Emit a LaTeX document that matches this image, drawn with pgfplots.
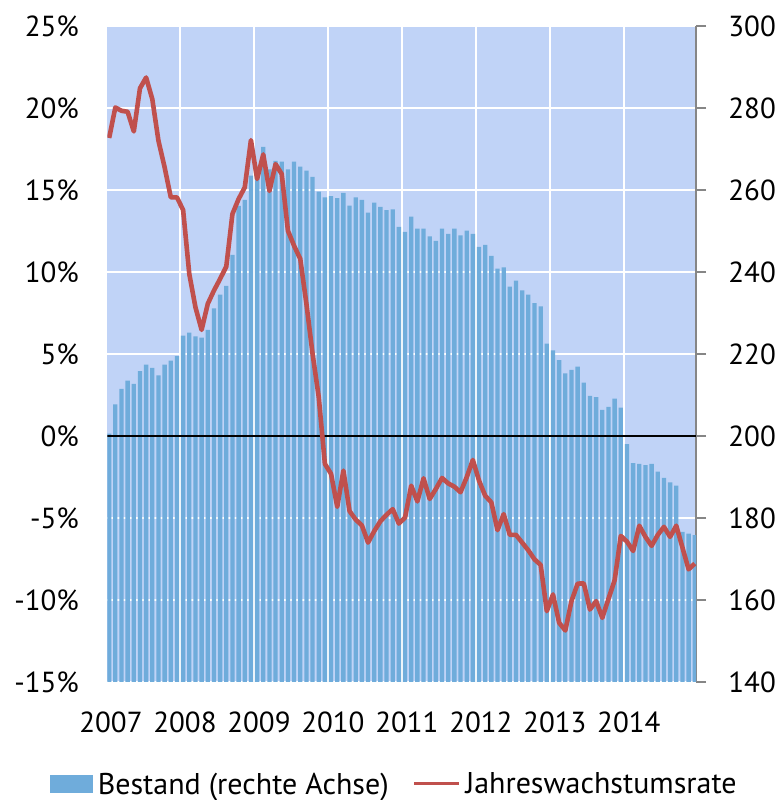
\documentclass[border=0pt]{standalone}
\usepackage{fontspec}
\setmainfont{PT Sans}
\usepackage{pgfplots}
\pgfplotsset{compat=1.18}
\definecolor{bgblue}{HTML}{C0D3F7}
\definecolor{barblue}{HTML}{6FACDB}
\definecolor{linered}{HTML}{C0504D}
\definecolor{axgrey}{HTML}{868686}
\begin{document}
\begin{tikzpicture}
\pgfplotsset{
  common/.style={width=294.35pt, height=328pt, scale only axis,
    xmin=-0.3, xmax=95.2,
    tick label style={font=\fontsize{14.5}{17}\selectfont}},
}
% ---------- right axis: Bestand (bars) ----------
\begin{axis}[common, name=main,
  axis background/.style={fill=bgblue},
  ymin=140, ymax=300,
  ytick={140,160,180,200,220,240,260,280,300},
  yticklabels={140,160,180,200,220,240,260,280,300},
  axis y line*=right, axis x line*=bottom,
  x axis line style={draw=none},
  y axis line style={draw=axgrey, line width=0.6pt},
  xtick={11.5,23.5,35.5,47.5,59.5,71.5,83.5}, xticklabels={},
  xtick style={draw=none},
  ytick style={draw=axgrey, line width=0.6pt},
  tick align=outside, major tick length=5pt,
  xmajorgrids, ymajorgrids,
  grid style={white, line width=0.85pt},
  yticklabel style={anchor=west, inner sep=0pt, xshift=11pt},
]
\addplot[ybar, bar width=0.7, fill=barblue, draw=none] table[x=i, y=v] {
i v
0 200.6
1 207.7
2 211.5
3 213.5
4 212.7
5 215.8
6 217.4
7 216.6
8 214.8
9 217.4
10 218.4
11 219.5
12 224.5
13 225.2
14 224.3
15 224.0
16 225.9
17 231.1
18 234.5
19 236.6
20 244.2
21 256.1
22 257.6
23 263.5
24 264.0
25 270.5
26 265.0
27 267.1
28 266.9
29 265.0
30 266.9
31 265.7
32 264.7
33 263.2
34 259.6
35 258.2
36 258.5
37 258.0
38 259.3
39 256.2
40 258.2
41 257.6
42 254.5
43 256.9
44 255.9
45 255.1
46 255.3
47 251.0
48 249.8
49 253.5
50 250.6
51 250.6
52 248.7
53 247.6
54 250.6
55 249.3
56 250.6
57 248.9
58 250.1
59 249.3
60 246.1
61 246.6
62 243.9
63 240.8
64 241.1
65 236.4
66 237.9
67 235.5
68 234.5
69 232.4
70 231.6
71 222.5
72 220.9
73 218.5
74 215.3
75 216.1
76 216.9
77 213.0
78 209.8
79 209.5
80 206.4
81 207.1
82 209.1
83 206.9
84 198.0
85 193.4
86 193.2
87 192.9
88 193.2
89 191.3
90 189.8
91 188.7
92 187.9
93 176.6
94 176.2
95 175.8
};
\end{axis}
% ---------- left axis: Jahreswachstumsrate (line) ----------
\begin{axis}[common,
  ymin=-15, ymax=25,
  ytick={-15,-10,-5,0,5,10,15,20,25},
  yticklabels={-15\%,-10\%,-5\%,0\%,5\%,10\%,15\%,20\%,25\%},
  axis y line*=left, axis x line*=bottom,
  axis line style={draw=none},
  tick style={draw=none},
  xtick={0.3,12.3,24.3,36.3,48.3,60.3,72.3,84.3},
  xticklabels={2007,2008,2009,2010,2011,2012,2013,2014},
  yticklabel style={anchor=east, inner sep=0pt, xshift=-14pt},
  xticklabel style={anchor=base, inner sep=0pt, yshift=-25pt},
  legend columns=2,
  legend cell align=left,
  legend style={at={(-0.0973,-0.1547)}, anchor=west, draw=none, fill=none,
    inner sep=0pt, outer sep=0pt,
    font=\fontsize{15}{18}\selectfont,
    nodes={inner sep=0pt, text depth=0pt},
    column sep=2.5pt,
    /tikz/every even column/.append style={column sep=12pt}},
]
\addlegendimage{legend image code/.code={\fill[barblue] (0pt,-4.25pt) rectangle (21pt,4.25pt);}}
\addlegendentry{Bestand (rechte Achse)}
\addplot[black, line width=0.85pt, forget plot] coordinates {(-0.3,0) (95.2,0)};
\addplot[linered, line width=2.3pt, line join=round,
  legend image code/.code={\draw[linered, line width=1.4pt] (0pt,0pt) -- (22.5pt,0pt);}]
  table[x=i, y=p] {
i p
0 18.17
1 20.03
2 19.83
3 19.77
4 18.57
5 21.20
6 21.86
7 20.54
8 18.00
9 16.38
10 14.55
11 14.55
12 13.78
13 9.88
14 7.85
15 6.47
16 8.06
17 8.87
18 9.58
19 10.33
20 13.54
21 14.45
22 15.16
23 18.04
24 15.67
25 17.17
26 14.94
27 16.58
28 15.97
29 12.52
30 11.60
31 10.80
32 8.06
33 5.01
34 2.37
35 -1.70
36 -2.31
37 -4.32
38 -2.11
39 -4.58
40 -5.10
41 -5.45
42 -6.50
43 -5.80
44 -5.20
45 -4.80
46 -4.46
47 -5.34
48 -4.97
49 -3.03
50 -3.99
51 -2.58
52 -3.84
53 -3.23
54 -2.56
55 -2.89
56 -3.09
57 -3.43
58 -2.52
59 -1.46
60 -2.72
61 -3.64
62 -4.05
63 -5.74
64 -4.76
65 -6.03
66 -6.03
67 -6.50
68 -6.97
69 -7.52
70 -7.86
71 -10.68
72 -9.66
73 -11.39
74 -11.86
75 -10.07
76 -9.00
77 -8.99
78 -10.58
79 -10.07
80 -11.09
81 -9.93
82 -8.80
83 -6.09
84 -6.44
85 -7.01
86 -5.47
87 -6.15
88 -6.70
89 -6.03
90 -5.54
91 -6.15
92 -5.47
93 -6.80
94 -8.13
95 -7.78
};
\addlegendentry{Jahreswachstumsrate}
\end{axis}
\pgfresetboundingbox
\path ([xshift=-53.65pt, yshift=-59pt]main.south west) rectangle ([xshift=40.5pt, yshift=13pt]main.north east);
\end{tikzpicture}
\end{document}
